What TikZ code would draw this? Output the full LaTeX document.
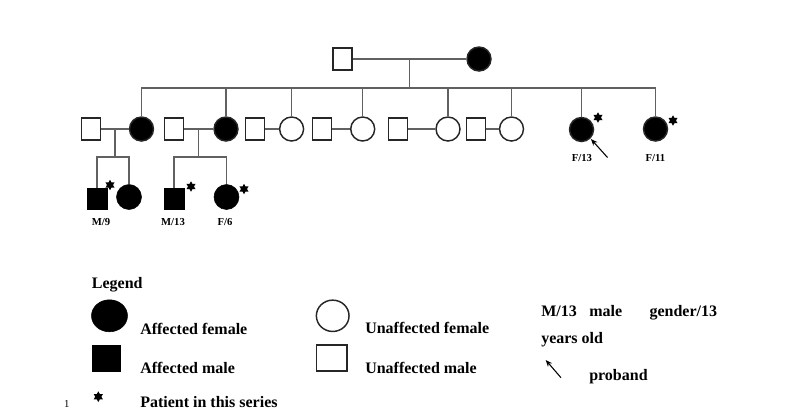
\documentclass[tikz,border=0pt]{standalone}
\usepackage{fontspec}
\setmainfont{Liberation Serif}
\usetikzlibrary{shapes.geometric,arrows.meta}
\begin{document}
\begin{tikzpicture}[x=0.75pt,y=-0.75pt,
  ln/.style={draw=black!62,line width=0.9pt},
  sq/.style={draw=black!85,rectangle,line width=1.2pt,minimum width=14.25pt,minimum height=16.5pt,inner sep=0pt},
  sqA/.style={sq,fill=black},
  ci/.style={draw=black!85,circle,line width=1.1pt,minimum size=18pt,inner sep=0pt},
  ciA/.style={ci,fill=black},
  sqC/.style={draw=black,fill=black,rectangle,minimum width=15pt,minimum height=16pt,inner sep=0pt},
  ciC/.style={draw=black,fill=black,circle,minimum size=18.75pt,inner sep=0pt},
  starsym/.style={star,star points=6,star point ratio=1.75,fill=black,inner sep=0pt,minimum size=7.8pt},
  arr/.style={draw=black,line width=0.8pt,-{Stealth[length=5pt,width=4pt]}},
  lab/.style={font=\bfseries\fontsize{8}{9}\selectfont,anchor=base,inner sep=0pt},
  txt/.style={font=\bfseries\fontsize{12}{14}\selectfont,anchor=base west,inner sep=0pt}]
\useasboundingbox (0,0) rectangle (793,415);
% generation I
\node[sq] (I1) at (342.7,59) {};
\node[ciA] (I2) at (479,59) {};
\draw[ln] (I1) -- (I2);
\path (I1) -- (I2) coordinate[pos=0.5] (m0);
\coordinate (s0) at (m0 |- 0,88);
\draw[ln] (m0) -- (s0);
% generation II
\node[sq]  (II1)  at (91,129) {};
\node[ciA] (II2)  at (141.5,129) {};
\node[sq]  (II3)  at (174,129) {};
\node[ciA] (II4)  at (226,129) {};
\node[sq]  (II5)  at (255,129) {};
\node[ci]  (II6)  at (291.6,129) {};
\node[sq]  (II7)  at (322,129) {};
\node[ci]  (II8)  at (362.7,129) {};
\node[sq]  (II9)  at (398,129) {};
\node[ci]  (II10) at (448,129) {};
\node[sq]  (II11) at (476,129) {};
\node[ci]  (II12) at (511.5,129) {};
\node[ciA] (II13) at (581.5,129.5) {};
\node[ciA] (II14) at (655.5,129) {};
\foreach \c in {II2,II4,II6,II8,II10,II12,II13,II14}
  \draw[ln] (s0) -| (\c.north);
\draw[ln] (II1) -- (II2);
\draw[ln] (II3) -- (II4);
\draw[ln] (II5) -- (II6);
\draw[ln] (II7) -- (II8);
\draw[ln] (II9) -- (II10);
\draw[ln] (II11) -- (II12);
% generation III
\node[sqC] (III1) at (97,198.5) {};
\node[ciC] (III2) at (129,197) {};
\node[sqC] (III3) at (174,198.5) {};
\node[ciC] (III4) at (226.5,197) {};
\path (II1) -- (II2) coordinate[pos=0.5] (m1);
\coordinate (s1) at (m1 |- 0,157);
\draw[ln] (m1) -- (s1);
\draw[ln] (s1) -| (III1.north);
\draw[ln] (s1) -| (III2.north);
\path (II3) -- (II4) coordinate[pos=0.5] (m2);
\coordinate (s2) at (m2 |- 0,157);
\draw[ln] (m2) -- (s2);
\draw[ln] (s2) -| (III3.north);
\draw[ln] (s2) -| (III4.north);
% stars
\node[starsym] (st1) at (598,117.5) {};
\node[starsym] (st2) at (673,120.5) {};
\node[starsym] (st3) at (110,185) {};
\node[starsym] (st4) at (191,186.5) {};
\node[starsym] (st5) at (244,189) {};
% proband arrow
\coordinate (a1) at (607.5,157.5);
\draw[arr,shorten >=0.5pt] (a1) -- (II13.south east);
% labels
\node[lab] (l1) at (101,225) {M/9};
\node[lab] (l2) at (173,225) {M/13};
\node[lab] (l3) at (225,225) {F/6};
\node[lab] (l4) at (582,161.5) {F/13};
\node[lab] (l5) at (655.5,161.5) {F/11};
% legend
\node[txt] (lg) at (91.7,288.3) {Legend};
\node[draw=black,fill=black,ellipse,minimum width=27pt,minimum height=24pt,inner sep=0pt] (k1) at (109.5,315.8) {};
\node[txt] (t1) at (140,334) {Affected female};
\node[draw=black,fill=black,rectangle,minimum width=21pt,minimum height=20pt,inner sep=0pt] (k2) at (105.8,358.3) {};
\node[txt] (t2) at (140,373.3) {Affected male};
\node[starsym,minimum size=8pt] (k3) at (98.3,396.7) {};
\node[txt] (t3) at (140,407.7) {Patient in this series};
\node[font=\fontsize{8}{9}\selectfont,anchor=base,inner sep=0pt] (n1) at (66.7,407.7) {1};
\node[draw=black!85,line width=1.1pt,ellipse,minimum width=24.5pt,minimum height=23.5pt,inner sep=0pt] (k4) at (332.7,315.8) {};
\node[txt] (t4) at (365,333.3) {Unaffected female};
\node[draw=black!85,line width=1.1pt,rectangle,minimum width=23pt,minimum height=19.5pt,inner sep=0pt] (k5) at (331.8,358) {};
\node[txt] (t5) at (365,373.3) {Unaffected male};
\node[txt] (t6) at (541,316.7) {M/13};
\node[txt] (t7) at (589,316.7) {male};
\node[txt] (t8) at (649.3,316.7) {gender/13};
\node[txt] (t9) at (541,343.5) {years old};
\coordinate (a2) at (561,377.7);
\coordinate (a3) at (545.7,360);
\draw[arr] (a2) -- (a3);
\node[txt] (t10) at (589,380.7) {proband};
\end{tikzpicture}
\end{document}
